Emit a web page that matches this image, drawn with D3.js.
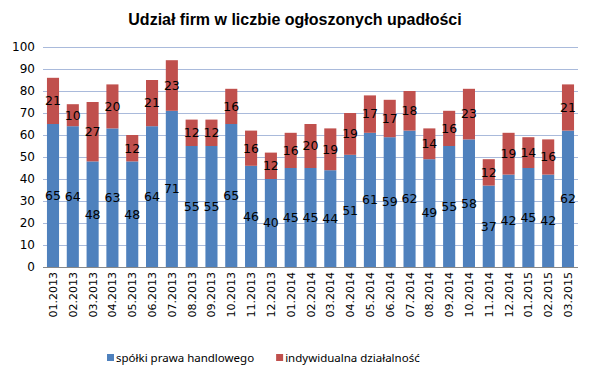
<!DOCTYPE html>
<html>
<head>
<meta charset="utf-8">
<script src="https://cdn.jsdelivr.net/npm/d3@7"></script>
<style>
  body { margin: 0; background: #fff; }
  svg text { font-family: "DejaVu Sans", Verdana, sans-serif; }
</style>
</head>
<body>
<svg width="590" height="380"></svg>
<script>
// dane
var months = ["01.2013","02.2013","03.2013","04.2013","05.2013","06.2013","07.2013","08.2013","09.2013","10.2013","11.2013","12.2013",
              "01.2014","02.2014","03.2014","04.2014","05.2014","06.2014","07.2014","08.2014","09.2014","10.2014","11.2014","12.2014",
              "01.2015","02.2015","03.2015"];
var spolki = [65,64,48,63,48,64,71,55,55,65,46,40,45,45,44,51,61,59,62,49,55,58,37,42,45,42,62];
var indyw  = [21,10,27,20,12,21,23,12,12,16,16,12,16,20,19,19,17,17,18,14,16,23,12,19,14,16,21];
var yTicks = [0,10,20,30,40,50,60,70,80,90,100];
var seriesNames = ["spółki prawa handlowego", "indywidualna działalność"];
var colors = ["#4F81BD", "#C0504D"];

var svg = d3.select("svg");
var pLeft = 43, pRight = 578, pTop = 47, pBottom = 267;

var x = d3.scaleBand().domain(months).range([pLeft, pRight]).paddingInner(0.39).paddingOuter(0.2);
var y = d3.scaleLinear().domain([0, 100]).range([pBottom, pTop]);

// title
svg.append("text")
  .attr("x", 295).attr("y", 25)
  .attr("text-anchor", "middle")
  .style("font-family", "Arial, 'Liberation Sans', sans-serif")
  .style("font-weight", "bold").style("font-size", "16px")
  .text("Udział firm w liczbie ogłoszonych upadłości");

// gridlines
svg.append("g").selectAll("line")
  .data(yTicks.filter(function (d) { return d > 0; })).enter()
  .append("line")
  .attr("x1", pLeft).attr("x2", pRight)
  .attr("y1", function (d) { return y(d) + 0.5; })
  .attr("y2", function (d) { return y(d) + 0.5; })
  .attr("stroke", "#A9BADB").attr("stroke-width", 1);

// y axis labels
var yAxis = svg.append("g")
  .attr("transform", "translate(" + (pLeft - 8) + ",0)")
  .call(d3.axisLeft(y).tickValues(yTicks).tickSize(0).tickPadding(0));
yAxis.select(".domain").remove();
yAxis.selectAll("text").style("font-size", "12px").style("fill", "#000")
  .style("font-family", "Verdana, 'DejaVu Sans', sans-serif");

var stackData = months.map(function (m, i) { return { m: m, a: spolki[i], b: indyw[i] }; });
var stack = d3.stack().keys(["a", "b"])(stackData);

var layers = svg.selectAll("g.layer").data(stack).enter()
  .append("g").attr("class", "layer")
  .attr("fill", function (d, i) { return colors[i]; });

layers.selectAll("rect").data(function (d) { return d; }).enter()
  .append("rect")
  .attr("x", function (d) { return x(d.data.m); })
  .attr("width", x.bandwidth())
  .attr("y", function (d) { return y(d[1]); })
  .attr("height", function (d) { return y(d[0]) - y(d[1]); });

// data labels
layers.selectAll("text").data(function (d) { return d; }).enter()
  .append("text")
  .attr("x", function (d) { return x(d.data.m) + x.bandwidth() / 2; })
  .attr("y", function (d) { return y((d[0] + d[1]) / 2); })
  .attr("dy", "0.35em")
  .attr("text-anchor", "middle")
  .style("font-size", "12.5px").style("fill", "#000")
  .style("font-family", "Verdana, 'DejaVu Sans', sans-serif")
  .text(function (d) { return d[1] - d[0]; });

// x axis
svg.append("line")
  .attr("x1", pLeft).attr("x2", pRight)
  .attr("y1", pBottom + 0.5).attr("y2", pBottom + 0.5)
  .attr("stroke", "#888").attr("stroke-width", 1);

svg.append("g").selectAll("text")
  .data(months).enter()
  .append("text")
  .attr("transform", function (d) {
    return "translate(" + (x(d) + x.bandwidth() / 2 + 4) + "," + (pBottom + 5) + ") rotate(-90)";
  })
  .attr("text-anchor", "end")
  .style("font-size", "11px").style("fill", "#000")
  .style("font-family", "Verdana, 'DejaVu Sans', sans-serif")
  .text(function (d) { return d; });

// legend - wyśrodkowana
var legend = svg.append("g");
var cursor = 0;
seriesNames.forEach(function (name, i) {
  legend.append("rect")
    .attr("x", cursor).attr("y", 354)
    .attr("width", 7).attr("height", 7)
    .attr("fill", colors[i]);
  var t = legend.append("text")
    .attr("x", cursor + 9).attr("y", 362)
    .style("font-size", "11.5px").style("fill", "#000")
    .style("font-family", "'Noto Sans', 'Open Sans', sans-serif")
    .text(name);
  cursor += 9 + t.node().getComputedTextLength() + 22;
});
var legW = cursor - 22;
legend.attr("transform", "translate(" + Math.round(263 - legW / 2) + ",0)");
</script>
</body>
</html>
